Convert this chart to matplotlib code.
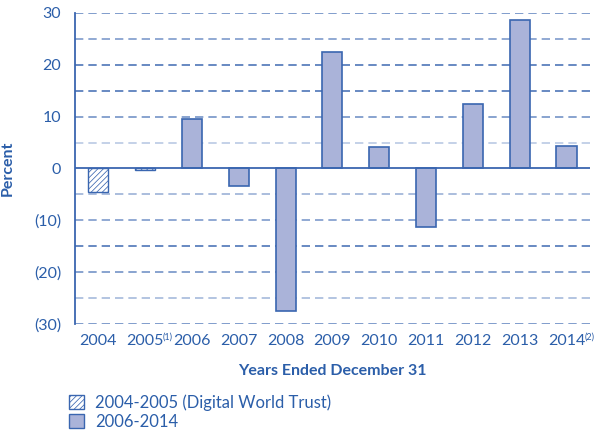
import matplotlib.pyplot as plt
from matplotlib.patches import Patch

plt.rcParams["font.family"] = ["Lato", "DejaVu Sans"]
plt.rcParams["hatch.linewidth"] = 0.55

BLUE = "#2b5ea9"
EDGE = "#3a66b0"
FILL = "#aab3d9"

years = ["2004", "2005", "2006", "2007", "2008", "2009",
         "2010", "2011", "2012", "2013", "2014"]
footnotes = {1: "(1)", 10: "(2)"}
returns = [-4.6, -0.3, 9.6, -3.3, -27.4, 22.4, 4.2, -11.2, 12.4, 28.7, 4.4]
dwt_flags = [True, True, False, False, False, False, False, False, False, False, False]
ytick_vals = [30, 20, 10, 0, -10, -20, -30]
ytick_labels = ["30", "20", "10", "0", "(10)", "(20)", "(30)"]
grid_vals = [30, 25, 20, 15, 10, 5, -5, -10, -15, -20, -25, -30]
grid_alpha = [0.75, 0.65, 0.9, 0.9, 0.7, 0.35, 0.5, 0.65, 0.9, 0.7, 0.45, 0.75]

fig = plt.figure(figsize=(5.98, 4.32), dpi=100)
ax = fig.add_axes([0.1254, 0.25, 0.861, 0.72])

for y, a in zip(grid_vals, grid_alpha):
    ax.axhline(y, color=EDGE, lw=1.2, ls=(0, (5, 3)), alpha=a, zorder=1)

x = list(range(len(years)))
for xi, val, dwt in zip(x, returns, dwt_flags):
    if dwt:
        ax.bar(xi, val, width=0.43, facecolor="white", edgecolor=EDGE,
               hatch="//////", lw=1.0, zorder=3)
    else:
        ax.bar(xi, val, width=0.43, facecolor=FILL, edgecolor=EDGE,
               lw=1.2, zorder=3)

ax.axhline(0, color=EDGE, lw=1.3, zorder=4)

ax.set_xlim(-0.5, 10.5)
ax.set_ylim(-30, 30)
ax.set_yticks(ytick_vals)
ax.set_yticklabels(ytick_labels)
ax.set_xticks(x)
ax.set_xticklabels(years)
ax.tick_params(length=0, colors=BLUE, labelsize=11.5)
ax.tick_params(axis="y", pad=10)
ax.tick_params(axis="x", pad=7)

for s in ["top", "right", "bottom"]:
    ax.spines[s].set_visible(False)
ax.spines["left"].set_color(EDGE)
ax.spines["left"].set_linewidth(1.3)

ax.set_ylabel("Percent", color=BLUE, fontsize=11.5, fontweight="bold", labelpad=14)
ax.set_xlabel("Years Ended December 31", color=BLUE, fontsize=11.5,
              fontweight="bold", labelpad=12)

# superscript footnote markers next to tick labels
fig.canvas.draw()
renderer = fig.canvas.get_renderer()
labels = ax.get_xticklabels()
for i, mark in footnotes.items():
    bb = labels[i].get_window_extent(renderer)
    fx, fy = fig.transFigure.inverted().transform((bb.x1 - 1, bb.y1 + 1))
    fig.text(fx, fy, mark, color=BLUE, fontsize=6.5, ha="left", va="top")

handles = [
    Patch(facecolor="white", edgecolor=EDGE, hatch="//////",
          label="2004-2005 (Digital World Trust)"),
    Patch(facecolor=FILL, edgecolor=EDGE, label="2006-2014"),
]
leg = fig.legend(handles=handles, loc="upper left", bbox_to_anchor=(0.115, 0.088),
                 frameon=False, fontsize=12, handlelength=0.9, handleheight=0.9,
                 handletextpad=0.7, labelspacing=0.2, borderaxespad=0,
                 borderpad=0)
for t in leg.get_texts():
    t.set_color(BLUE)

fig.savefig("out.png", dpi=100)
